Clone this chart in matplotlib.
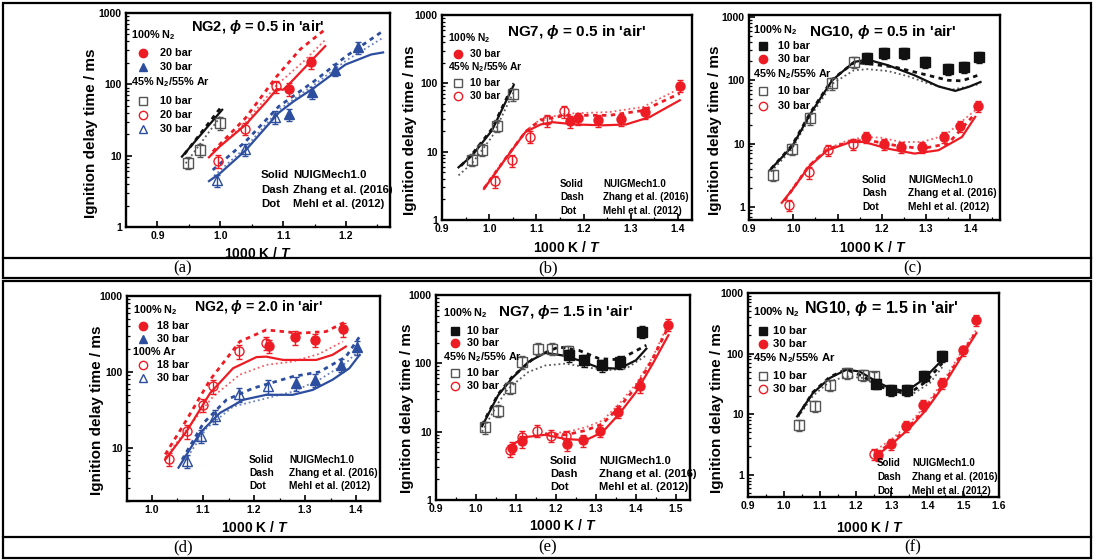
import numpy as np
import matplotlib.pyplot as plt
from matplotlib.patches import Rectangle
from matplotlib.ticker import MultipleLocator, LogLocator, NullFormatter, FuncFormatter

plt.rcParams['font.family'] = ['Liberation Sans', 'DejaVu Sans']
plt.rcParams['font.weight'] = 'bold'
plt.rcParams['mathtext.fontset'] = 'custom'
plt.rcParams['mathtext.rm'] = 'Liberation Sans:bold'
plt.rcParams['mathtext.it'] = 'Liberation Sans:italic:bold'
plt.rcParams['mathtext.bf'] = 'Liberation Sans:bold'

W, H = 1096, 560
RED = '#ed1c24'
BLUE = '#2d4e9f'
BLACK = '#111111'
GREY = '#555555'
REL_ERR = 0.2

# ---- (a) NG2, phi = 0.5 ----  (1000 K/T, IDT / ms)
a_n2_20 = [(1.110, 86), (1.145, 204)]
a_n2_30 = [(1.110, 38), (1.146, 77), (1.183, 161), (1.219, 332)]
a_ar_10 = [(0.948, 8.0), (0.968, 12.0), (0.999, 29)]
a_ar_20 = [(0.996, 8.5), (1.040, 24), (1.089, 94)]
a_ar_30 = [(0.995, 4.5), (1.040, 12.3), (1.087, 35)]
a_nuig_10 = [(0.939, 9.7), (1.003, 44)]
a_zhang_10 = [(0.943, 10.5), (1.003, 50)]
a_mehl_10 = [(0.945, 7.8), (1.002, 37)]
a_nuig_20 = [(0.982, 9.5), (0.999, 13.4), (1.040, 27), (1.074, 58), (1.090, 86),
             (1.100, 84), (1.111, 104), (1.167, 343)]
a_zhang_20 = [(0.988, 11.4), (1.040, 33.6), (1.090, 130), (1.127, 309), (1.167, 590)]
a_mehl_20 = [(0.985, 10.3), (1.040, 29), (1.090, 98), (1.130, 200), (1.167, 420)]
a_nuig_30 = [(0.982, 4.4), (0.999, 5.6), (1.040, 11.8), (1.093, 40), (1.117, 58),
             (1.149, 89), (1.199, 189), (1.240, 262), (1.259, 280)]
a_zhang_30 = [(0.988, 6.3), (1.040, 15.7), (1.093, 49), (1.149, 110), (1.200, 247), (1.259, 560)]
a_mehl_30 = [(0.990, 5.2), (1.040, 13), (1.093, 44), (1.149, 98), (1.200, 215), (1.259, 450)]

# ---- (b) NG7, phi = 0.5 ----
b_n2_30 = [(1.171, 28), (1.189, 31), (1.230, 29), (1.279, 30), (1.330, 38), (1.405, 92)]
b_ar_10 = [(0.964, 7.6), (0.984, 10.7), (1.017, 24), (1.050, 70)]
b_ar_30 = [(1.012, 3.7), (1.048, 7.5), (1.086, 16.5), (1.123, 29), (1.159, 39)]
b_nuig_10 = [(0.935, 5.9), (0.964, 8.8), (1.006, 20.5), (1.052, 94)]
b_zhang_10 = [(0.940, 6.2), (0.964, 9.2), (1.006, 21.5), (1.052, 100)]
b_mehl_10 = [(0.935, 4.5), (0.964, 6.8), (1.006, 16.5), (1.052, 75)]
b_nuig_30 = [(0.989, 2.85), (1.035, 7.9), (1.077, 19.4), (1.109, 25), (1.134, 27), (1.184, 25),
             (1.240, 24.3), (1.290, 25), (1.340, 32), (1.404, 56.5)]
b_zhang_30 = [(0.989, 2.9), (1.035, 8.0), (1.077, 19.6), (1.109, 29), (1.162, 34), (1.255, 34),
              (1.326, 40), (1.404, 71)]
b_mehl_30 = [(0.989, 2.95), (1.035, 8.1), (1.077, 20), (1.109, 30), (1.162, 36), (1.255, 38),
             (1.326, 45), (1.404, 84)]

# ---- (c) NG10, phi = 0.5 ----
c_n2_10 = [(1.166, 228), (1.206, 270), (1.250, 270), (1.297, 195), (1.350, 153), (1.385, 163), (1.420, 234)]
c_n2_30 = [(1.164, 12.7), (1.204, 10), (1.244, 8.9), (1.291, 8.9), (1.341, 12.7), (1.376, 18.8), (1.418, 39)]
c_ar_10 = [(0.955, 3.2), (0.997, 8.3), (1.037, 25), (1.088, 89), (1.137, 195)]
c_ar_30 = [(0.991, 1.06), (1.035, 3.5), (1.079, 8.0), (1.136, 9.8)]
c_nuig_10 = [(0.947, 3.8), (0.997, 8.9), (1.039, 29.8), (1.088, 100), (1.137, 195), (1.168, 212),
             (1.214, 173), (1.274, 120), (1.328, 80), (1.366, 68), (1.396, 78.5), (1.423, 94)]
c_zhang_10 = [(0.950, 4.0), (0.997, 9.3), (1.039, 31), (1.088, 103), (1.137, 190), (1.168, 183),
              (1.229, 162), (1.290, 127), (1.350, 100), (1.381, 98), (1.423, 124)]
c_mehl_10 = [(0.950, 3.6), (0.997, 8.2), (1.039, 27), (1.088, 88), (1.137, 144), (1.168, 150),
             (1.214, 140), (1.259, 116), (1.305, 89), (1.358, 71), (1.396, 80), (1.423, 88)]
c_nuig_30 = [(0.974, 1.16), (0.997, 1.83), (1.035, 4.28), (1.077, 7.85), (1.130, 10.6), (1.160, 10.6),
             (1.214, 8.3), (1.274, 6.95), (1.328, 7.85), (1.381, 12.7), (1.411, 26.4)]
c_zhang_30 = [(0.980, 1.25), (1.035, 4.4), (1.077, 8.1), (1.130, 10.9), (1.168, 11.3), (1.229, 9.4),
              (1.290, 8.3), (1.350, 10), (1.411, 29.8)]
c_mehl_30 = [(0.980, 1.3), (1.035, 4.5), (1.077, 8.3), (1.120, 11), (1.160, 12.7), (1.198, 12.4),
             (1.244, 10.6), (1.290, 10.6), (1.343, 13.5), (1.411, 33.6)]

# ---- (d) NG2, phi = 2.0 ----
d_n2_18 = [(1.230, 221), (1.280, 286), (1.319, 264), (1.375, 365)]
d_n2_30 = [(1.282, 71), (1.319, 79), (1.371, 124), (1.402, 210)]
d_ar_18 = [(1.034, 7.2), (1.068, 16.6), (1.100, 37), (1.119, 65), (1.171, 186), (1.224, 244)]
d_ar_30 = [(1.068, 6.7), (1.096, 14.5), (1.124, 26), (1.171, 51), (1.228, 65)]
d_nuig_18 = [(1.026, 7.0), (1.068, 16.6), (1.114, 52.7), (1.159, 112), (1.205, 157), (1.224, 159),
             (1.257, 144), (1.322, 144), (1.354, 168), (1.380, 216)]
d_zhang_18 = [(1.026, 8.2), (1.068, 23.5), (1.114, 79), (1.172, 251), (1.224, 358), (1.289, 324),
              (1.341, 340), (1.380, 460)]
d_mehl_18 = [(1.026, 7.4), (1.068, 17.5), (1.120, 47.6), (1.172, 92), (1.224, 124), (1.276, 137),
             (1.328, 173), (1.374, 251)]
d_nuig_30 = [(1.052, 5.5), (1.094, 15.7), (1.133, 28.8), (1.179, 43), (1.224, 50), (1.276, 50),
             (1.315, 58), (1.354, 79), (1.387, 112), (1.407, 168)]
d_zhang_30 = [(1.059, 7.0), (1.101, 21.3), (1.146, 43), (1.198, 61), (1.276, 87), (1.328, 100),
              (1.380, 158), (1.407, 292)]
d_mehl_30 = [(1.065, 6.8), (1.107, 18.2), (1.159, 35), (1.224, 45), (1.276, 55), (1.328, 79),
             (1.380, 131), (1.407, 195)]

# ---- (e) NG7, phi = 1.5 ----
e_n2_10 = [(1.232, 131), (1.270, 111), (1.316, 94), (1.360, 105), (1.416, 289)]
e_n2_30 = [(1.090, 5.8), (1.114, 7.2), (1.228, 6.6), (1.268, 7.5), (1.310, 10.3), (1.354, 19.7),
           (1.409, 46), (1.481, 370)]
e_ar_10 = [(1.023, 11.6), (1.055, 20.4), (1.085, 44), (1.114, 105), (1.154, 164), (1.190, 164), (1.230, 150)]
e_ar_30 = [(1.085, 5.4), (1.114, 8.4), (1.152, 10.3), (1.188, 8.7), (1.224, 8.5)]
e_nuig_10 = [(1.015, 12), (1.055, 33.8), (1.089, 59.5), (1.131, 105), (1.173, 142), (1.215, 131),
             (1.257, 111), (1.308, 86), (1.358, 83.5), (1.400, 111), (1.426, 164)]
e_zhang_10 = [(1.015, 12.5), (1.055, 35), (1.089, 62), (1.148, 124), (1.207, 174), (1.257, 155),
              (1.308, 117), (1.358, 113), (1.426, 184)]
e_mehl_10 = [(1.015, 10), (1.055, 26), (1.080, 42.4), (1.131, 74.6), (1.173, 93), (1.224, 99),
             (1.274, 88), (1.325, 79), (1.375, 83.5), (1.426, 131)]
e_nuig_30 = [(1.084, 6.1), (1.122, 8.3), (1.173, 9.0), (1.224, 7.8), (1.274, 7.5), (1.316, 9.8),
             (1.358, 18.2), (1.400, 37.9), (1.442, 99), (1.481, 258)]
e_zhang_30 = [(1.173, 9.2), (1.224, 9.0), (1.274, 10.4), (1.316, 13), (1.358, 22.8), (1.400, 44.9),
              (1.442, 117), (1.481, 342)]
e_mehl_30 = [(1.173, 9.5), (1.224, 9.8), (1.274, 11.6), (1.316, 14.5), (1.358, 25.5), (1.400, 50),
             (1.442, 124), (1.481, 383)]

# ---- (f) NG10, phi = 1.5 ----
f_n2_10 = [(1.258, 32), (1.300, 25.3), (1.343, 25.3), (1.390, 43), (1.442, 92)]
f_n2_30 = [(1.262, 2.14), (1.300, 3.25), (1.341, 6.44), (1.388, 14.3), (1.442, 32.6), (1.499, 113), (1.537, 362)]
f_ar_10 = [(1.042, 6.7), (1.086, 13.8), (1.130, 30.6), (1.176, 47.7), (1.221, 44.8), (1.250, 42)]
f_ar_30 = [(1.250, 2.22)]
f_nuig_10 = [(1.037, 9.2), (1.081, 22.3), (1.128, 39.5), (1.174, 54.2), (1.211, 50.8), (1.258, 34.7),
             (1.295, 27), (1.341, 23.8), (1.388, 37), (1.442, 79)]
f_zhang_10 = [(1.040, 9.5), (1.081, 23), (1.128, 41), (1.174, 55), (1.221, 42), (1.258, 30.6),
              (1.304, 23.8), (1.351, 22.3), (1.397, 34.7), (1.442, 69.8)]
f_mehl_10 = [(1.040, 9.0), (1.081, 20), (1.128, 34.7), (1.174, 42), (1.221, 39.5), (1.267, 28.7),
             (1.314, 22.3), (1.360, 21.7), (1.407, 32.6), (1.442, 60)]
f_nuig_30 = [(1.258, 2.06), (1.304, 3.33), (1.351, 5.89), (1.397, 11.8), (1.444, 28.7), (1.490, 79), (1.537, 218)]
f_zhang_30 = [(1.258, 2.2), (1.304, 3.6), (1.351, 6.4), (1.397, 12.8), (1.444, 31), (1.490, 86), (1.537, 230)]
f_mehl_30 = [(1.258, 2.59), (1.304, 4.03), (1.351, 7.13), (1.397, 14.3), (1.444, 34.7), (1.490, 95.7), (1.537, 248)]

MODEL_STYLE = {
    'nuig': dict(ls='-', lw=1.6),
    'zhang': dict(ls=(0, (1.6, 1.6)), lw=2.0),
    'mehl': dict(ls=(0, (1, 1.6)), lw=1.3, alpha=0.7),
}


def px_rect(l, t, r, b):
    return [l / W, 1 - b / H, (r - l) / W, (b - t) / H]


def setup(ax, xlim, ylim):
    ax.set_yscale('log')
    ax.set_xlim(*xlim)
    ax.set_ylim(*ylim)
    ax.xaxis.set_major_locator(MultipleLocator(0.1))
    ax.xaxis.set_minor_locator(MultipleLocator(0.05))
    ax.xaxis.set_major_formatter(FuncFormatter(lambda v, p: f'{v:.1f}'))
    ax.yaxis.set_major_locator(LogLocator(base=10))
    ax.yaxis.set_minor_locator(LogLocator(base=10, subs=np.arange(2, 10)))
    ax.yaxis.set_minor_formatter(NullFormatter())
    ax.yaxis.set_major_formatter(FuncFormatter(lambda v, p: f'{v:g}'))
    ax.tick_params(which='major', direction='in', length=4, width=1.2, labelsize=7.5, pad=3)
    ax.tick_params(which='minor', direction='in', length=2, width=0.9)
    for s in ax.spines.values():
        s.set_linewidth(1.7)


def exp(ax, pts, marker, color, filled, ms=6.5):
    x, y = np.array(pts).T
    ax.errorbar(x, y, yerr=y * REL_ERR, fmt=marker, ms=ms, mew=1,
                mfc=color if filled else 'none', mec=color, ecolor=color,
                elinewidth=1, capsize=2, capthick=1, zorder=5)


def model(ax, pts, kind, color):
    x, y = np.array(pts).T
    ax.plot(x, y, color=color, zorder=3, **MODEL_STYLE[kind])


fig = plt.figure(figsize=(W / 100, H / 100), dpi=100)

# (a)
ax = fig.add_axes(px_rect(126, 13, 390, 227))
setup(ax, (0.85, 1.27), (1, 1000))
for pts, k in [(a_nuig_10, 'nuig'), (a_zhang_10, 'zhang'), (a_mehl_10, 'mehl')]:
    model(ax, pts, k, BLACK)
for pts, k in [(a_nuig_20, 'nuig'), (a_zhang_20, 'zhang'), (a_mehl_20, 'mehl')]:
    model(ax, pts, k, RED)
for pts, k in [(a_nuig_30, 'nuig'), (a_zhang_30, 'zhang'), (a_mehl_30, 'mehl')]:
    model(ax, pts, k, BLUE)
exp(ax, a_ar_10, 's', GREY, False)
exp(ax, a_ar_20, 'o', RED, False)
exp(ax, a_ar_30, '^', BLUE, False)
exp(ax, a_n2_20, 'o', RED, True)
exp(ax, a_n2_30, '^', BLUE, True)

# (b)
ax = fig.add_axes(px_rect(442, 15, 692, 220))
setup(ax, (0.9, 1.43), (1, 1000))
for pts, k in [(b_nuig_10, 'nuig'), (b_zhang_10, 'zhang'), (b_mehl_10, 'mehl')]:
    model(ax, pts, k, BLACK)
for pts, k in [(b_nuig_30, 'nuig'), (b_zhang_30, 'zhang'), (b_mehl_30, 'mehl')]:
    model(ax, pts, k, RED)
exp(ax, b_ar_10, 's', GREY, False)
exp(ax, b_ar_30, 'o', RED, False)
exp(ax, b_n2_30, 'o', RED, True)

# (c)
ax = fig.add_axes(px_rect(749, 15, 1000, 220))
setup(ax, (0.9, 1.467), (0.62, 1076))
for pts, k in [(c_nuig_10, 'nuig'), (c_zhang_10, 'zhang'), (c_mehl_10, 'mehl')]:
    model(ax, pts, k, BLACK)
for pts, k in [(c_nuig_30, 'nuig'), (c_zhang_30, 'zhang'), (c_mehl_30, 'mehl')]:
    model(ax, pts, k, RED)
exp(ax, c_ar_10, 's', GREY, False)
exp(ax, c_ar_30, 'o', RED, False)
exp(ax, c_n2_10, 's', BLACK, True)
exp(ax, c_n2_30, 'o', RED, True)

# (d)
ax = fig.add_axes(px_rect(127, 296, 380, 501))
setup(ax, (0.951, 1.447), (2, 1000))
for pts, k in [(d_nuig_18, 'nuig'), (d_zhang_18, 'zhang'), (d_mehl_18, 'mehl')]:
    model(ax, pts, k, RED)
for pts, k in [(d_nuig_30, 'nuig'), (d_zhang_30, 'zhang'), (d_mehl_30, 'mehl')]:
    model(ax, pts, k, BLUE)
exp(ax, d_ar_18, 'o', RED, False)
exp(ax, d_ar_30, '^', BLUE, False)
exp(ax, d_n2_18, 'o', RED, True)
exp(ax, d_n2_30, '^', BLUE, True)

# (e)
ax = fig.add_axes(px_rect(436, 295, 690, 500))
setup(ax, (0.9, 1.535), (1, 1000))
for pts, k in [(e_nuig_10, 'nuig'), (e_zhang_10, 'zhang'), (e_mehl_10, 'mehl')]:
    model(ax, pts, k, BLACK)
for pts, k in [(e_nuig_30, 'nuig'), (e_zhang_30, 'zhang'), (e_mehl_30, 'mehl')]:
    model(ax, pts, k, RED)
exp(ax, e_ar_10, 's', GREY, False)
exp(ax, e_ar_30, 'o', RED, False)
exp(ax, e_n2_10, 's', BLACK, True)
exp(ax, e_n2_30, 'o', RED, True)

# (f)
ax = fig.add_axes(px_rect(748, 293, 999, 497))
setup(ax, (0.9, 1.6), (0.43, 1000))
for pts, k in [(f_nuig_10, 'nuig'), (f_zhang_10, 'zhang'), (f_mehl_10, 'mehl')]:
    model(ax, pts, k, BLACK)
for pts, k in [(f_nuig_30, 'nuig'), (f_zhang_30, 'zhang'), (f_mehl_30, 'mehl')]:
    model(ax, pts, k, RED)
exp(ax, f_ar_10, 's', GREY, False)
exp(ax, f_ar_30, 'o', RED, False)
exp(ax, f_n2_10, 's', BLACK, True)
exp(ax, f_n2_30, 'o', RED, True)

# overlay in pixel coordinates for labels, legends and frames
ov = fig.add_axes([0, 0, 1, 1])
ov.set_xlim(0, W)
ov.set_ylim(H, 0)
ov.axis('off')

for top, mid, bot in [(3, 258, 278), (281, 537, 558)]:
    ov.add_patch(Rectangle((3, top), 1088, bot - top, fill=False, lw=1.6, ec='black', zorder=10))
    ov.plot([3, 1091], [mid, mid], color='black', lw=1.6, zorder=10)

N2 = '100% N$_2$'
MIX = '45% N$_2$/55% Ar'
PHI = r'$\phi$'
titles = [(258, 27, f'NG2, {PHI} = 0.5 in \'air\'', 10.5),
          (577, 32, f'NG7, {PHI} = 0.5 in \'air\'', 11),
          (883, 32, f'NG10, {PHI} = 0.5 in \'air\'', 11),
          (258, 307, f'NG2, {PHI} = 2.0 in \'air\'', 10.2),
          (565, 312, f'NG7, {PHI}= 1.5 in \'air\'', 11),
          (881, 308, f'NG10, {PHI} = 1.5 in \'air\'', 11.5)]
for x, y, s, fs in titles:
    ov.text(x, y, s, ha='center', va='center', fontsize=fs, fontweight='bold')

for x, y in [(91, 133), (410, 130), (715, 130), (97, 410), (407, 408), (717, 408)]:
    ov.text(x, y, 'Ignition delay time / ms', rotation=90, ha='center', va='center', fontsize=11)
for x, y in [(258, 254), (567, 248), (873, 248), (255, 527), (563, 526), (870, 527)]:
    ov.text(x, y, '1000 K / $T$', ha='center', va='center', fontsize=10)
for x, y, s in [(183, 268, '(a)'), (548, 268, '(b)'), (913, 268, '(c)'),
                (183, 547, '(d)'), (548, 547, '(e)'), (913, 547, '(f)')]:
    ov.text(x, y, s, ha='center', va='center', fontsize=12,
            family=['Liberation Serif', 'DejaVu Serif'], fontweight='normal')


def legend_rows(xh, xm, xt, rows, fs=7.8):
    for y, sym, text in rows:
        if sym is None:
            ov.text(xh, y, text, ha='left', va='center', fontsize=fs)
            continue
        marker, color, filled = sym
        ov.plot([xm], [y], marker=marker, ms=6, mew=1, color=color,
                mfc=color if filled else 'none', mec=color, ls='none')
        ov.text(xt, y, text, ha='left', va='center', fontsize=fs)


legend_rows(131, 143, 160, [(35, None, N2), (53, ('o', RED, True), '20 bar'),
                            (67, ('^', BLUE, True), '30 bar'), (82, None, MIX),
                            (101, ('s', GREY, False), '10 bar'), (115, ('o', RED, False), '20 bar'),
                            (129, ('^', BLUE, False), '30 bar')])
legend_rows(448, 458, 470, [(38, None, N2), (54, ('o', RED, True), '30 bar'), (67, None, MIX),
                            (83, ('s', GREY, False), '10 bar'), (96, ('o', RED, False), '30 bar')], fs=7.4)
legend_rows(753, 763, 778, [(30, None, N2), (46, ('s', BLACK, True), '10 bar'),
                            (59, ('o', RED, True), '30 bar'), (74, None, MIX),
                            (91, ('s', GREY, False), '10 bar'), (106, ('o', RED, False), '30 bar')])
legend_rows(133, 143, 157, [(310, None, N2), (326, ('o', RED, True), '18 bar'),
                            (339, ('^', BLUE, True), '30 bar'), (352, None, '100% Ar'),
                            (365, ('o', RED, False), '18 bar'), (378, ('^', BLUE, False), '30 bar')])
legend_rows(443, 455, 467, [(313, None, N2), (331, ('s', BLACK, True), '10 bar'),
                            (343, ('o', RED, True), '30 bar'), (357, None, MIX),
                            (373, ('s', GREY, False), '10 bar'), (386, ('o', RED, False), '30 bar')])
legend_rows(753, 763, 773, [(312, None, N2), (331, ('s', BLACK, True), '10 bar'),
                            (344, ('o', RED, True), '30 bar'), (358, None, MIX),
                            (376, ('s', GREY, False), '10 bar'), (389, ('o', RED, False), '30 bar')], fs=8.2)

notes = [(261, 293, (175, 190, 204), 8.2), (560, 603, (184, 197, 211), 7.0),
         (862, 908, (180, 193, 207), 7.3), (249, 289, (460, 473, 486), 7.3),
         (550, 599, (461, 474, 487), 8.0), (877, 912, (463, 477, 491), 7.0)]
for x1, x2, ys, fs in notes:
    for y, a, b in zip(ys, ['Solid', 'Dash', 'Dot'],
                       ['NUIGMech1.0', 'Zhang et al. (2016)', 'Mehl et al. (2012)']):
        ov.text(x1, y, a, ha='left', va='center', fontsize=fs)
        ov.text(x2, y, b, ha='left', va='center', fontsize=fs)

fig.savefig('out.png', dpi=100)
